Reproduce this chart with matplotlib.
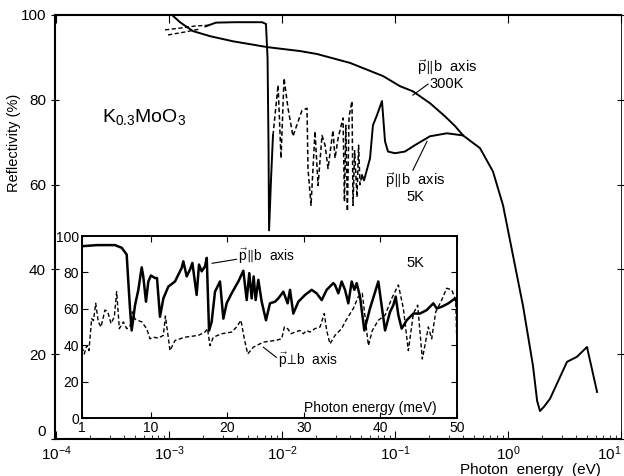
import numpy as np
import matplotlib.pyplot as plt
from matplotlib.ticker import LogLocator, NullFormatter, FixedLocator

plt.rcParams['font.family'] = ['Liberation Sans', 'DejaVu Sans']
plt.rcParams['mathtext.fontset'] = 'custom'
plt.rcParams['mathtext.rm'] = 'Liberation Sans'
plt.rcParams['mathtext.it'] = 'Liberation Sans:italic'

# ---- main panel (energy in eV, reflectivity in %) ----
# p || b, 300 K
e300 = [1.064e-3, 1.25e-3, 1.63e-3, 2.31e-3, 3.68e-3, 7.52e-3, 0.0144, 0.0204,
        0.040, 0.0783, 0.111, 0.144, 0.204, 0.277, 0.340, 0.400, 0.565, 0.736,
        0.904, 1.107, 1.358, 1.663, 1.81, 1.919, 2.08, 2.355, 3.327, 4.083,
        5.00, 6.14]
r300 = [100.0, 98.3, 96.2, 95.0, 93.8, 92.4, 91.5, 90.8,
        88.7, 85.6, 83.2, 82.0, 79.2, 76.1, 73.8, 71.6, 68.6, 63.1,
        55.1, 43.3, 31.4, 17.3, 9.0, 6.6, 7.6, 9.5, 18.2, 19.4,
        21.7, 11.1]

# p || b, 5 K : solid low-energy part
e5a = [2.1e-3, 2.6e-3, 3.84e-3, 6.65e-3, 7.21e-3, 7.45e-3, 7.60e-3, 7.68e-3, 8.0e-3, 8.32e-3]
r5a = [97.3, 98.2, 98.3, 98.3, 97.9, 89.8, 68.6, 49.2, 61.5, 71.6]

# p || b, 5 K : phonon region (dashed)
e5d = [8.32e-3, 9.23e-3, 9.80e-3, 0.01042, 0.01130, 0.01250, 0.01503, 0.01664,
       0.01698, 0.01806, 0.01959, 0.02084, 0.02260, 0.02404, 0.02555, 0.02825,
       0.02944, 0.03133, 0.03467, 0.0357, 0.0367, 0.0379, 0.0392, 0.04162,
       0.0425, 0.0439, 0.0461, 0.0476, 0.0490, 0.0510]
r5d = [71.6, 83.5, 66.2, 85.1, 78.0, 71.4, 77.5, 78.0,
       63.8, 55.1, 72.6, 59.8, 71.6, 69.3, 63.8, 72.8,
       66.2, 70.9, 75.7, 56.0, 74.0, 53.7, 76.0, 79.7,
       55.1, 68.0, 57.0, 69.3, 60.0, 62.2]

# p || b, 5 K : solid high-energy part
e5b = [0.0510, 0.0532, 0.0601, 0.0638, 0.0693, 0.0767, 0.0816, 0.0867,
       0.100, 0.1225, 0.150, 0.204, 0.288, 0.400]
r5b = [62.2, 61.0, 66.2, 74.0, 76.4, 79.7, 70.2, 67.8,
       67.4, 67.8, 69.3, 71.4, 72.1, 71.6]

# short dashed traces near 1 meV
e_da = [9.23e-4, 1.25e-3, 1.70e-3, 2.31e-3]
r_da = [96.5, 96.9, 97.4, 97.6]
e_db = [9.8e-4, 1.39e-3, 1.88e-3]
r_db = [95.3, 96.0, 96.7]

# ---- inset (energy in meV) ----
ei_par = [1.0, 3.0, 5.3, 6.2, 6.84, 7.05, 7.27, 7.49, 7.93, 8.36, 8.80, 9.0,
          9.36, 9.67, 10.0, 10.54, 10.8, 11.19, 11.63, 12.28, 13.15, 14.02,
          14.24, 14.68, 15.11, 15.42, 15.98, 16.29, 16.64, 17.07, 17.3, 17.6,
          17.94, 18.38, 19.03, 19.47, 19.9, 20.55, 21.43, 22.08, 22.52, 22.86,
          23.17, 23.43, 23.69, 24.04, 24.48, 25.04, 25.56, 26.22, 26.65, 27.31,
          27.87, 28.18, 28.61, 29.27, 30.14, 31.01, 31.66, 32.32, 32.97, 33.84,
          34.06, 34.5, 34.93, 35.37, 35.8, 36.24, 36.59, 36.89, 37.33, 37.89,
          38.63, 39.72, 40.6, 41.25, 41.68, 41.99, 42.34, 42.77, 43.43, 44.3,
          45.17, 46.04, 46.91, 47.35, 48.0, 48.87, 49.74, 50.0]
ri_par = [94.4, 95.0, 95.0, 93.5, 89.8, 75.0, 60.2, 48.1, 62.0, 70.4, 82.8, 78.0,
          63.9, 75.0, 78.3, 76.9, 76.9, 55.6, 65.7, 72.2, 75.0, 82.4,
          86.1, 77.8, 81.5, 85.2, 67.6, 84.3, 80.6, 83.3, 88.0, 48.0,
          52.8, 69.4, 75.0, 54.6, 63.0, 68.5, 75.0, 80.9, 64.8, 79.6,
          65.7, 77.8, 64.8, 75.9, 63.9, 53.7, 63.0, 63.9, 65.7, 69.4,
          63.0, 70.4, 57.4, 63.9, 67.6, 70.4, 68.5, 64.8, 70.4, 74.1,
          73.1, 68.5, 75.0, 70.4, 63.0, 75.0, 70.4, 74.1, 66.7, 48.1,
          60.2, 75.0, 48.1, 58.3, 62.0, 66.7, 56.5, 49.1, 53.7, 57.4,
          57.4, 59.3, 63.0, 60.2, 61.1, 63.0, 65.7, 63.0]

ei_perp = [1.0, 1.3, 1.61, 1.91, 2.26, 2.5, 2.79, 3.13, 3.48, 4.0, 4.35, 4.79,
           5.22, 5.53, 5.88, 6.4, 6.84, 7.27, 7.58, 7.93, 8.8, 9.45, 9.89,
           10.32, 10.98, 11.63, 11.9, 12.5, 13.15, 14.46, 16.2, 17.07, 17.4,
           17.72, 18.16, 19.25, 20.55, 21.2, 21.77, 22.21, 22.65, 23.39, 24.69,
           26.22, 27.09, 27.44, 27.87, 28.31, 28.83, 29.48, 29.92, 30.36, 30.79,
           31.44, 32.1, 32.66, 32.97, 33.4, 34.06, 34.93, 35.37, 36.46, 37.11,
           37.63, 38.42, 38.94, 39.72, 40.6, 41.47, 42.34, 42.99, 43.64, 44.3,
           44.86, 45.47, 46.26, 46.69, 47.22, 48.0, 48.65, 49.31, 49.83, 50.0]
ri_perp = [38.9, 35.2, 39.8, 37.0, 54.6, 53.5, 63.0, 52.8, 50.0, 59.3, 58.5, 51.9,
           55.6, 69.4, 49.1, 52.8, 49.1, 50.0, 58.3, 54.3, 52.8, 49.1, 43.5,
           44.4, 43.9, 45.4, 56.0, 37.0, 42.6, 44.4, 45.4, 47.2, 49.1,
           39.8, 44.4, 46.3, 47.2, 50.0, 53.7, 43.5, 35.2, 38.9, 41.7,
           42.6, 43.5, 50.0, 49.1, 46.3, 47.2, 48.1, 46.3, 48.1, 47.2,
           49.1, 50.0, 57.4, 48.1, 40.7, 45.4, 49.1, 52.8, 60.2, 66.7,
           68.5, 39.8, 48.1, 53.7, 56.5, 65.7, 73.1, 60.2, 37.0, 57.4,
           62.0, 32.4, 50.0, 43.5, 58.3, 64.8, 71.3, 70.4, 64.8, 38.0]

W, H = 624, 476
fig = plt.figure(figsize=(W / 100, H / 100), dpi=100)
ax = fig.add_axes([55 / W, 37 / H, 566 / W, 424 / H])

lw = 1.4
dash = (0, (3, 1.8))
ax.plot(e300, r300, 'k-', lw=lw)
ax.plot(e5a, r5a, 'k-', lw=lw)
ax.plot(e5d, r5d, color='k', ls=dash, lw=1.1)
ax.plot(e5b, r5b, 'k-', lw=lw)
ax.plot(e_da, r_da, color='k', ls=dash, lw=1.0)
ax.plot(e_db, r_db, color='k', ls=dash, lw=1.0)

ax.set_xscale('log')
ax.set_xlim(10 ** -4.009, 10 ** 1.0)
ax.set_ylim(0, 100)
ax.set_yticks([0, 20, 40, 60, 80, 100])
ax.xaxis.set_major_locator(LogLocator(base=10, numticks=10))
ax.xaxis.set_minor_locator(LogLocator(base=10, subs=np.arange(2, 10), numticks=20))
ax.xaxis.set_minor_formatter(NullFormatter())
ax.tick_params(axis='x', which='major', direction='in', length=6, top=True,
               labelsize=11, pad=4)
ax.tick_params(axis='x', which='minor', direction='in', length=3, top=False)
ax.tick_params(axis='y', direction='inout', length=6, right=True, labelsize=11)
ax.spines['right'].set_linewidth(0.6)
for s in ['left', 'bottom', 'top']:
    ax.spines[s].set_linewidth(1.5)
fig.canvas.draw()
for t in ax.get_xticklabels():
    if t.get_text() and '1}' in t.get_text() and '-' not in t.get_text():
        t.set_ha('right')
for t in ax.get_yticklabels():
    if t.get_text() == '0':
        t.set_va('bottom')

ax.text(2.55e-4, 76, r'K$_{0.3}$MoO$_3$', fontsize=14, va='center')
ax.text(0.288, 86.0, r'$\vec{\mathrm{p}}\!\parallel\!$b  axis' + '\n300K',
        fontsize=10.5, ha='center', va='center', linespacing=1.0)
ax.plot([0.144, 0.196], [81.1, 83.7], 'k-', lw=0.8)
ax.text(0.150, 59.3, r'$\vec{\mathrm{p}}\!\parallel\!$b  axis' + '\n5K',
        fontsize=10.5, ha='center', va='center', linespacing=1.0)
ax.plot([0.192, 0.144], [70.2, 63.4], 'k-', lw=0.8)

fig.text(530 / W, 1 - 474 / H, 'Photon  energy  (eV)', fontsize=11,
         ha='center', va='baseline')
fig.text(14 / W, 1 - 143 / H, 'Reflectivity (%)', fontsize=10.5, rotation=90,
         ha='center', va='center')

# ---- inset ----
ins = fig.add_axes([82 / W, (H - 418) / H, 375 / W, 182 / H])
ins.set_facecolor('white')
ins.plot(ei_par, ri_par, 'k-', lw=1.8)
ins.plot(ei_perp, ri_perp, color='k', ls=dash, lw=1.0)
ins.set_xlim(1, 50)
ins.set_ylim(0, 100)
ins.xaxis.set_major_locator(FixedLocator([1, 10, 20, 30, 40, 50]))
ins.set_yticks([0, 20, 40, 60, 80, 100])
ins.tick_params(axis='both', direction='in', length=4, top=True, right=True,
                labelsize=10, pad=2)
for s in ins.spines.values():
    s.set_linewidth(1.4)
ins.text(21.4, 88.9, r'$\vec{\mathrm{p}}\!\parallel\!$b  axis', fontsize=10,
         va='center')
ins.plot([18.0, 21.2], [85.0, 87.2], 'k-', lw=0.8)
ins.text(26.6, 31.7, r'$\vec{\mathrm{p}}\!\perp\!$b  axis', fontsize=10,
         va='center')
ins.plot([24.7, 26.4], [38.9, 33.3], 'k-', lw=0.8)
ins.text(44.5, 85, '5K', fontsize=10.5, ha='center', va='center')
ins.text(47.4, 5.5, 'Photon energy (meV)', fontsize=10, ha='right', va='center')

fig.savefig('out.png', dpi=100)
